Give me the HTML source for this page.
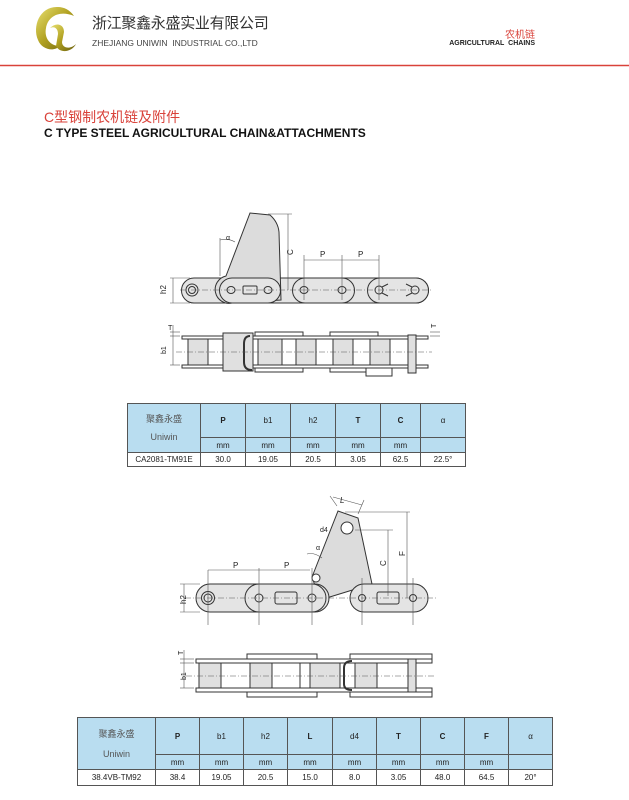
<!DOCTYPE html>
<html><head><meta charset="utf-8"><style>
html,body{margin:0;padding:0;background:#fff;}
body{width:629px;height:800px;position:relative;overflow:hidden;font-family:"Liberation Sans","Noto Sans CJK SC",sans-serif;}
.abs{position:absolute;white-space:nowrap;}
table{position:absolute;border-collapse:collapse;font-family:"Liberation Sans","Noto Sans CJK SC",sans-serif;}
td{border:1px solid #555;text-align:center;padding:0;font-size:8px;color:#222;}
.hd td{background:#b9ddf0;}
.dt td{background:#fff;}
</style></head><body>
<svg class="abs" style="left:0;top:0" width="629" height="800">
<defs>
<linearGradient id="g1" x1="0" y1="0" x2="1" y2="1"><stop offset="0" stop-color="#e8e070"/><stop offset="0.5" stop-color="#b0a020"/><stop offset="1" stop-color="#6a6010"/></linearGradient>
</defs>
<path d="M58 7 C40 6 32 26 38 40 C42 50 54 52 60 46 C50 46 44 38 46 28 C48 16 60 10 74 16 C70 10 64 7 58 7Z" fill="url(#g1)"/>
<path d="M50 28 C56 22 64 24 64 32 L62 42 C62 48 70 50 76 44 C72 52 60 54 56 46 L58 34 C58 28 54 26 50 28Z" fill="url(#g1)"/>
<line x1="0" y1="65.5" x2="629" y2="65.5" stroke="#d9423a" stroke-width="1.5"/>

<g stroke="#333" stroke-width="1" fill="none">
<path d="M194 278 H416 A12.5 12.5 0 0 1 416 303 H194 A12.5 12.5 0 0 1 194 278Z" fill="#e4e4e4"/>
<path d="M226 276 L250 213 L270 215 Q278 222 279 232 L281 300 L232 303 A12.5 12.5 0 0 1 226 276Z" fill="#dcdcdc"/>
<path d="M232 278 H268 A12.5 12.5 0 0 1 268 303 H232 A12.5 12.5 0 0 1 232 278Z" fill="#e4e4e4"/>
<path d="M305 278 H342 A12.5 12.5 0 0 1 342 303 H305 A12.5 12.5 0 0 1 305 278Z" fill="#e4e4e4"/>
<path d="M380 278 H416 A12.5 12.5 0 0 1 416 303 H380 A12.5 12.5 0 0 1 380 278Z" fill="#e4e4e4"/>
<circle cx="192" cy="290" r="6"/><circle cx="192" cy="290" r="3.5"/>
<ellipse cx="231" cy="290" rx="4" ry="3.5"/><ellipse cx="268" cy="290" rx="4" ry="3.5"/>
<rect x="243" y="286" width="14" height="8" rx="1"/>
<ellipse cx="304" cy="290" rx="4" ry="3.5"/><ellipse cx="342" cy="290" rx="4" ry="3.5"/>
<circle cx="379" cy="290" r="4"/><circle cx="415" cy="290" r="4"/>
<path d="M382 287 L388 284 M382 293 L388 296 M412 287 L406 284 M412 293 L406 296"/>
</g>
<g stroke="#555" stroke-width="0.6" fill="none">
<line x1="180" y1="290" x2="432" y2="290" stroke-dasharray="6 2 1 2"/>
<line x1="170" y1="278" x2="190" y2="278"/><line x1="170" y1="303" x2="190" y2="303"/>
<line x1="173" y1="278" x2="173" y2="303"/>
<line x1="268" y1="214" x2="292" y2="214"/><line x1="288" y1="214" x2="288" y2="290"/>
<line x1="304" y1="260" x2="342" y2="260"/><line x1="342" y1="260" x2="379" y2="260"/>
<line x1="304" y1="255" x2="304" y2="300"/><line x1="342" y1="255" x2="342" y2="300"/><line x1="379" y1="255" x2="379" y2="300"/>
<line x1="220" y1="238" x2="220" y2="276"/><path d="M220 240 Q228 238 235 242"/>
</g>
<g font-size="8" fill="#222" font-family="Liberation Sans,sans-serif">
<text x="320" y="257">P</text><text x="358" y="257">P</text>
<text x="226" y="240" font-size="7">α</text>
<text x="166" y="294" transform="rotate(-90 166 294)">h2</text>
<text x="293" y="255" transform="rotate(-90 293 255)">C</text>
</g>

<g stroke="#333" stroke-width="1">
<rect x="182" y="336" width="246" height="3" fill="#fff"/>
<rect x="182" y="365" width="246" height="3" fill="#fff"/>
<rect x="188" y="339" width="20" height="26" fill="#e0e0e0"/>
<rect x="223" y="333" width="30" height="38" fill="#e0e0e0"/>
<path d="M250 336 Q244 336 244 344 V362 Q244 370 252 370" fill="none" stroke-width="2"/>
<rect x="258" y="339" width="24" height="26" fill="#e0e0e0"/>
<rect x="296" y="339" width="20" height="26" fill="#e0e0e0"/>
<rect x="333" y="339" width="20" height="26" fill="#e0e0e0"/>
<rect x="370" y="339" width="20" height="26" fill="#e0e0e0"/>
<rect x="408" y="335" width="8" height="38" fill="#e0e0e0"/>
<rect x="255" y="332" width="48" height="4" fill="#fff"/><rect x="255" y="368" width="48" height="4" fill="#fff"/>
<rect x="330" y="332" width="48" height="4" fill="#fff"/><rect x="330" y="368" width="48" height="4" fill="#fff"/>
<rect x="366" y="368" width="26" height="8" fill="#fff"/>
</g>
<g stroke="#555" stroke-width="0.6" fill="none">
<line x1="176" y1="352" x2="432" y2="352" stroke-dasharray="6 2 1 2"/>
<line x1="170" y1="336" x2="180" y2="336"/><line x1="170" y1="365" x2="180" y2="365"/>
<line x1="170" y1="332" x2="180" y2="332"/><line x1="173" y1="325" x2="173" y2="365"/>
<line x1="430" y1="332" x2="440" y2="332"/><line x1="430" y1="336" x2="440" y2="336"/>
</g>
<g font-size="7" fill="#222"><text x="168" y="330">T</text><text x="166" y="354" transform="rotate(-90 166 354)">b1</text><text x="436" y="328" transform="rotate(-90 436 328)">T</text></g>

<g stroke="#333" stroke-width="1" fill="none">
<path d="M312 577 L338 511 L358 518 L372 584 L320 600Z" fill="#dcdcdc"/>
<circle cx="316" cy="578" r="4" fill="#fff"/>
<path d="M210 584 H315 A14 14 0 0 1 315 612 H210 A14 14 0 0 1 210 584Z" fill="#e4e4e4"/>
<path d="M259 584 H312 A14 14 0 0 1 312 612 H259 A14 14 0 0 1 259 584Z" fill="#e4e4e4"/>
<path d="M364 584 H414 A14 14 0 0 1 414 612 H364 A14 14 0 0 1 364 584Z" fill="#e4e4e4"/>
<circle cx="347" cy="528" r="6" fill="#fff"/>
<circle cx="208" cy="598" r="6.5"/><circle cx="208" cy="598" r="4"/>
<circle cx="259" cy="598" r="4"/><circle cx="312" cy="598" r="4"/>
<rect x="275" y="592" width="22" height="12" rx="2"/>
<rect x="377" y="592" width="22" height="12" rx="2"/>
<circle cx="362" cy="598" r="3.5"/><circle cx="413" cy="598" r="3.5"/>
</g>
<g stroke="#555" stroke-width="0.6" fill="none">
<line x1="185" y1="598" x2="436" y2="598" stroke-dasharray="6 2 1 2"/>
<line x1="208" y1="570" x2="208" y2="625"/><line x1="259" y1="568" x2="259" y2="625"/><line x1="312" y1="568" x2="312" y2="625"/>
<line x1="362" y1="578" x2="362" y2="625"/><line x1="413" y1="578" x2="413" y2="625"/>
<line x1="208" y1="570" x2="259" y2="570"/><line x1="259" y1="570" x2="310" y2="570"/>
<line x1="180" y1="584" x2="200" y2="584"/><line x1="180" y1="612" x2="200" y2="612"/><line x1="184" y1="584" x2="184" y2="612"/>
<line x1="355" y1="530" x2="393" y2="530"/><line x1="388" y1="530" x2="388" y2="596"/>
<line x1="345" y1="512" x2="410" y2="512"/><line x1="407" y1="512" x2="407" y2="598"/>
<line x1="337" y1="506" x2="330" y2="496"/><line x1="358" y1="514" x2="364" y2="500"/><line x1="333" y1="497" x2="362" y2="505"/>
<path d="M307 554 Q314 552 322 558"/>
</g>
<g font-size="8" fill="#222">
<text x="233" y="568">P</text><text x="284" y="568">P</text>
<text x="340" y="503" font-style="italic">L</text><text x="320" y="532" font-size="7">d4</text>
<text x="316" y="550" font-size="7">α</text>
<text x="186" y="604" transform="rotate(-90 186 604)">h2</text>
<text x="386" y="566" transform="rotate(-90 386 566)">C</text>
<text x="405" y="556" transform="rotate(-90 405 556)">F</text>
</g>

<g stroke="#333" stroke-width="1">
<rect x="196" y="659" width="236" height="4" fill="#fff"/>
<rect x="196" y="688" width="236" height="4" fill="#fff"/>
<rect x="199" y="663" width="22" height="25" fill="#e0e0e0"/>
<rect x="250" y="663" width="22" height="25" fill="#e0e0e0"/>
<rect x="310" y="663" width="30" height="25" fill="#e0e0e0"/>
<rect x="300" y="663" width="10" height="25" fill="#fff"/>
<path d="M352 661 Q344 661 344 668 V684 Q344 690 352 690" fill="none" stroke-width="2"/>
<rect x="355" y="663" width="22" height="25" fill="#e0e0e0"/>
<rect x="408" y="659" width="8" height="33" fill="#e0e0e0"/>
<rect x="247" y="654" width="70" height="5" fill="#fff"/><rect x="247" y="692" width="70" height="5" fill="#fff"/>
<rect x="350" y="654" width="82" height="5" fill="#fff"/><rect x="350" y="692" width="82" height="5" fill="#fff"/>
</g>
<g stroke="#555" stroke-width="0.6" fill="none">
<line x1="186" y1="676" x2="436" y2="676" stroke-dasharray="6 2 1 2"/>
<line x1="180" y1="659" x2="194" y2="659"/><line x1="180" y1="663" x2="194" y2="663"/><line x1="180" y1="688" x2="194" y2="688"/>
<line x1="184" y1="650" x2="184" y2="688"/>
</g>
<g font-size="7" fill="#222"><text x="180" y="652" transform="rotate(-90 183 652)">T</text><text x="186" y="680" transform="rotate(-90 186 680)">b1</text></g>
</svg>

<div class="abs" style="left:92px;top:12px;font-size:15px;color:#333;letter-spacing:-0.3px;">浙江聚鑫永盛实业有限公司</div>
<div class="abs" style="left:92px;top:38px;font-size:8.5px;color:#444;">ZHEJIANG UNIWIN&nbsp; INDUSTRIAL CO.,LTD</div>
<div class="abs" style="right:94px;top:26px;font-size:10px;color:#d9423a;">农机链</div>
<div class="abs" style="right:94px;top:40px;font-size:7px;color:#222;font-weight:bold;">AGRICULTURAL&nbsp; CHAINS</div>
<div class="abs" style="left:44px;top:107px;font-size:14px;color:#d9423a;">C型钢制农机链及附件</div>
<div class="abs" style="left:44px;top:126px;font-size:12px;color:#111;font-weight:bold;letter-spacing:0px;">C TYPE STEEL AGRICULTURAL CHAIN&amp;ATTACHMENTS</div>

<table style="left:127px;top:403px;width:339px;">
<tr class="hd" style="height:34px"><td rowspan="2" style="width:72px;font-size:9px;color:#555;line-height:18px">聚鑫永盛<br>Uniwin</td><td style="width:44px"><b>P</b></td><td style="width:44px">b1</td><td style="width:44px">h2</td><td style="width:44px"><b>T</b></td><td style="width:39px"><b>C</b></td><td>α</td></tr>
<tr class="hd" style="height:15px"><td>mm</td><td>mm</td><td>mm</td><td>mm</td><td>mm</td><td></td></tr>
<tr class="dt" style="height:14px"><td>CA2081-TM91E</td><td>30.0</td><td>19.05</td><td>20.5</td><td>3.05</td><td>62.5</td><td>22.5°</td></tr>
</table>

<table style="left:77px;top:717px;width:476px;">
<tr class="hd" style="height:37px"><td rowspan="2" style="width:77px;font-size:9px;color:#555;line-height:20px">聚鑫永盛<br>Uniwin</td><td style="width:43px"><b>P</b></td><td style="width:43px">b1</td><td style="width:43px">h2</td><td style="width:44px"><b>L</b></td><td style="width:43px">d4</td><td style="width:43px"><b>T</b></td><td style="width:43px"><b>C</b></td><td style="width:43px"><b>F</b></td><td>α</td></tr>
<tr class="hd" style="height:15px"><td>mm</td><td>mm</td><td>mm</td><td>mm</td><td>mm</td><td>mm</td><td>mm</td><td>mm</td><td></td></tr>
<tr class="dt" style="height:16px"><td>38.4VB-TM92</td><td>38.4</td><td>19.05</td><td>20.5</td><td>15.0</td><td>8.0</td><td>3.05</td><td>48.0</td><td>64.5</td><td>20°</td></tr>
</table>
</body></html>
